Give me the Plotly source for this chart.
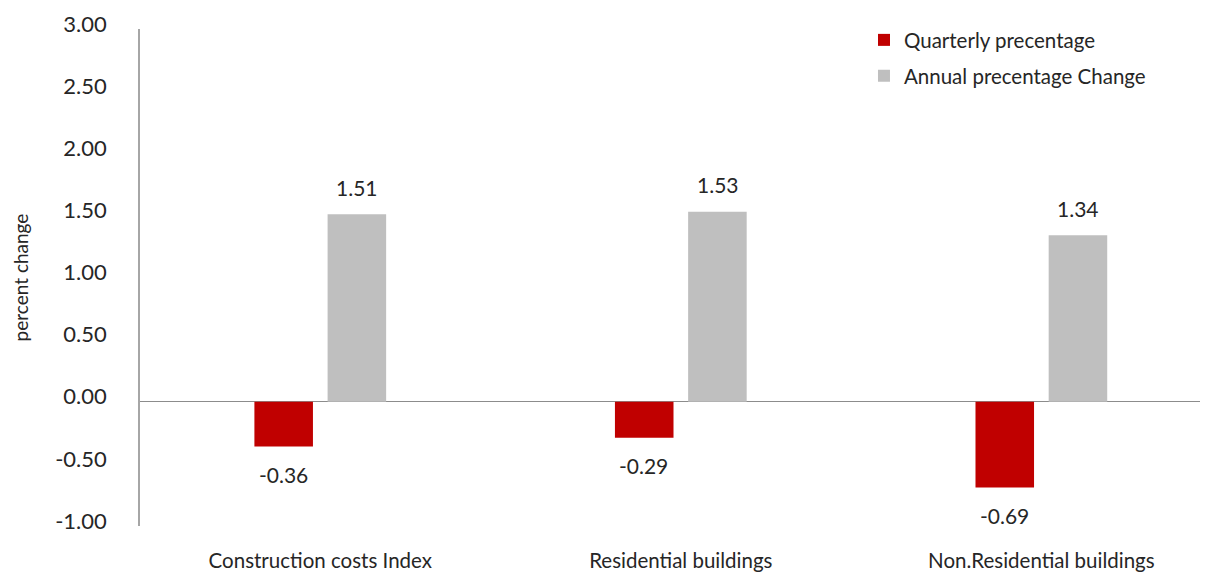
import plotly.graph_objects as go

categories = ["Construction costs Index", "Residential buildings", "Non.Residential buildings"]
quarterly = [-0.36, -0.29, -0.69]
annual = [1.51, 1.53, 1.34]
y_ticks = [3.0, 2.5, 2.0, 1.5, 1.0, 0.5, 0.0, -0.5, -1.0]
y_tick_labels = ["3.00", "2.50", "2.00", "1.50", "1.00", "0.50", "0.00", "-0.50", "-1.00"]

RED = "#C00000"
GRAY = "#BFBFBF"
TXT = "#262626"
FONT = "Lato"

fig = go.Figure()
fig.add_trace(go.Bar(x=categories, y=quarterly, name="Quarterly precentage",
                     marker=dict(color=RED, line=dict(width=0)), legend="legend"))
fig.add_trace(go.Bar(x=categories, y=annual, name="Annual precentage Change",
                     marker=dict(color=GRAY, line=dict(width=0)), legend="legend2"))

annotations = []
for c, v in zip(categories, quarterly):
    annotations.append(dict(x=c, y=v, text=f"{v:.2f}", showarrow=False, xref="x", yref="y",
                            xshift=-37, yshift=-28, font=dict(size=21, color=TXT, family=FONT)))
for c, v in zip(categories, annual):
    annotations.append(dict(x=c, y=v, text=f"{v:.2f}", showarrow=False, xref="x", yref="y",
                            xshift=37, yshift=27, font=dict(size=21, color=TXT, family=FONT)))

legend_font = dict(size=20.5, color=TXT, family=FONT)

fig.update_layout(
    width=1220, height=576,
    margin=dict(l=129, r=28, t=20, b=56),
    paper_bgcolor="white", plot_bgcolor="white",
    font=dict(family=FONT, color=TXT, size=20),
    barmode="group", bargap=0.594, bargroupgap=0.2,
    showlegend=True,
    legend=dict(x=0.683, y=1.018, xanchor="left", yanchor="top", bgcolor="rgba(0,0,0,0)",
                font=legend_font),
    legend2=dict(x=0.683, y=0.946, xanchor="left", yanchor="top", bgcolor="rgba(0,0,0,0)",
                 font=legend_font),
    annotations=annotations,
    xaxis=dict(type="category", range=[-0.5, 2.44], showgrid=False, showline=False,
               ticks="outside", ticklen=16, tickcolor="rgba(0,0,0,0)",
               tickfont=dict(size=20.5, color=TXT, family=FONT), zeroline=False,
               automargin="bottom"),
    yaxis=dict(range=[-1, 3], tickvals=y_ticks, ticktext=y_tick_labels,
               showgrid=False, showline=True, linecolor="#A6A6A6", linewidth=1.5,
               zeroline=True, zerolinecolor="#8C8C8C", zerolinewidth=1.2,
               ticks="", ticklabelstandoff=27, ticklabelshift=-5,
               tickfont=dict(size=22, color=TXT, family=FONT), automargin="left",
               title=dict(text="percent change", font=dict(size=19, color=TXT, family=FONT), standoff=22)),
)

fig.write_html("out.html")
